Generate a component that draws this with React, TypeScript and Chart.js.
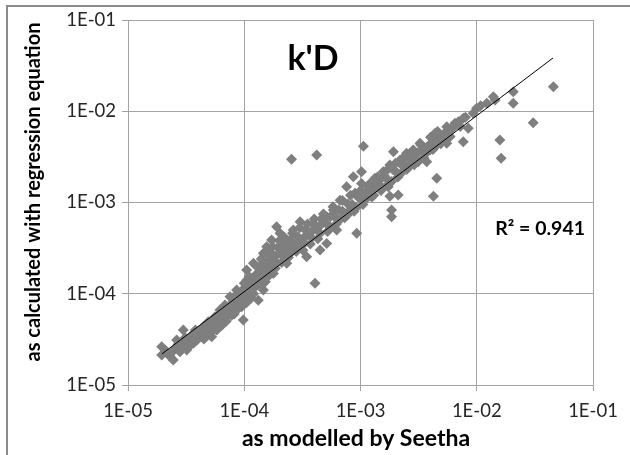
import React, { useEffect, useRef } from "react";
import { Chart, registerables } from "chart.js";

Chart.register(...registerables);

// ---- data (x = as modelled by Seetha, y = as calculated with regression equation)
const lowBand: number[][] = [
  [1.95e-5, 2.63e-5], [1.95e-5, 2.13e-5], [2.45e-5, 1.88e-5], [2.99e-5, 4.0e-5],
  [2.62e-5, 3.11e-5], [2.8e-5, 2.32e-5], [3.2e-5, 2.42e-5], [3.65e-5, 2.86e-5],
  [4.16e-5, 3.53e-5], [4.44e-5, 4.35e-5], [5.25e-5, 3.38e-5], [4.9e-5, 4.94e-5],
  [5.6e-5, 5.6e-5], [6.18e-5, 6.64e-5], [6.83e-5, 7.53e-5], [5.8e-5, 4.55e-5],
  [7.06e-5, 5.6e-5], [7.54e-5, 9.3e-5], [8.05e-5, 6.92e-5], [8.6e-5, 1.1e-4],
  [9.2e-5, 8.5e-5], [9.8e-5, 5.15e-5], [3.5e-5, 3.3e-5], [3.8e-5, 4.0e-5],
  [4.0e-5, 3.8e-5], [4.2e-5, 3.4e-5], [4.6e-5, 4.1e-5], [4.8e-5, 4.6e-5],
  [5.3e-5, 5.0e-5], [5.5e-5, 4.6e-5], [6.0e-5, 5.5e-5], [6.2e-5, 6.0e-5],
  [6.6e-5, 6.3e-5], [6.8e-5, 5.8e-5], [7.3e-5, 7.0e-5], [7.5e-5, 6.5e-5],
  [8.0e-5, 8.2e-5], [8.3e-5, 7.5e-5], [9.0e-5, 9.5e-5], [9.2e-5, 8.0e-5],
  [8.7e-5, 1.0e-4], [2.2e-5, 2.2e-5], [2.6e-5, 2.6e-5], [3.0e-5, 2.9e-5],
  [3.3e-5, 3.0e-5], [2.4e-5, 2.3e-5], [5.8e-5, 4.0e-5], [6.4e-5, 4.5e-5],
  [7.0e-5, 5.0e-5], [5.2e-5, 3.8e-5], [4.5e-5, 3.2e-5], [7.8e-5, 5.8e-5],
  [8.5e-5, 6.5e-5], [9.5e-5, 7.2e-5], [1.05e-4, 8.0e-5], [1.15e-4, 9.0e-5],
  [2.1e-5, 2.4e-5], [2.3e-5, 2.05e-5], [2.7e-5, 2.8e-5], [2.9e-5, 2.5e-5],
  [3.1e-5, 3.3e-5], [3.4e-5, 2.7e-5], [3.6e-5, 3.6e-5], [3.9e-5, 3.1e-5],
  [4.3e-5, 4.0e-5], [4.7e-5, 3.6e-5], [5.0e-5, 4.2e-5], [5.6e-5, 4.3e-5],
  [6.1e-5, 5.0e-5], [6.5e-5, 5.3e-5], [7.1e-5, 6.2e-5], [7.7e-5, 7.2e-5],
  [8.2e-5, 6.0e-5], [8.8e-5, 7.8e-5], [9.6e-5, 8.8e-5], [9.9e-5, 1.0e-4],
];

const midBand: number[][] = [
  [1.05e-4, 1.82e-4], [1.12e-4, 9.3e-5], [1.24e-4, 1.19e-4], [1.32e-4, 8.5e-5],
  [1.36e-4, 1.67e-4], [1.51e-4, 2.16e-4], [1.46e-4, 1.1e-4], [1.05e-4, 1.41e-4],
  [1.24e-4, 1.3e-4], [1.46e-4, 2.77e-4], [1.56e-4, 3.28e-4], [1.72e-4, 3.88e-4],
  [1.9e-4, 5.43e-4], [2.03e-4, 4.59e-4], [2.48e-4, 3.88e-4], [2.39e-4, 3.01e-4],
  [2.64e-4, 5.0e-4], [3.02e-4, 6.17e-4], [3.44e-4, 4.4e-4], [3.93e-4, 5.92e-4],
  [4.49e-4, 4.59e-4], [4.49e-4, 3.01e-4], [4.06e-4, 1.3e-4], [5.12e-4, 7.0e-4],
  [5.84e-4, 8.28e-4], [6.67e-4, 1.06e-3], [7.6e-4, 1.49e-3], [8.97e-4, 1.26e-3],
  [9.27e-4, 4.59e-4], [1.36e-4, 1.98e-4], [1.66e-4, 2.34e-4], [2.17e-4, 3.28e-4],
  [3.02e-4, 3.28e-4], [3.44e-4, 2.55e-4], [5.12e-4, 3.56e-4], [6.24e-4, 5.0e-4],
  [7.11e-4, 7.0e-4], [8.13e-4, 8.28e-4], [1.78e-4, 1.67e-4], [2.32e-4, 2.16e-4],
  [1.2e-4, 2.16e-4], [1.12e-4, 1.1e-4], [8.67e-4, 1.92e-3],
  [1.0e-4, 1.15e-4], [1.02e-4, 9.2e-5], [1.0e-4, 1.3e-4], [1.1e-4, 1.35e-4],
  [1.15e-4, 1.05e-4], [1.1e-4, 1.55e-4], [1.25e-4, 1.6e-4], [1.3e-4, 1.25e-4],
  [1.28e-4, 2.0e-4], [1.4e-4, 1.8e-4], [1.45e-4, 1.45e-4], [1.4e-4, 2.4e-4],
  [1.6e-4, 2.1e-4], [1.65e-4, 1.6e-4], [1.55e-4, 2.8e-4], [1.8e-4, 2.5e-4],
  [1.85e-4, 1.9e-4], [1.75e-4, 3.3e-4], [2.0e-4, 2.8e-4], [2.1e-4, 2.2e-4],
  [2.0e-4, 3.8e-4], [2.3e-4, 3.0e-4], [2.4e-4, 2.5e-4], [2.2e-4, 4.2e-4],
  [2.7e-4, 3.5e-4], [2.8e-4, 2.9e-4], [2.6e-4, 4.6e-4], [3.1e-4, 3.9e-4],
  [3.2e-4, 3.0e-4], [3.0e-4, 5.3e-4], [3.6e-4, 4.5e-4], [3.7e-4, 3.5e-4],
  [3.5e-4, 5.8e-4], [4.2e-4, 5.2e-4], [4.3e-4, 4.0e-4], [4.0e-4, 6.6e-4],
  [5.0e-4, 6.0e-4], [5.2e-4, 4.8e-4], [4.8e-4, 7.5e-4], [6.0e-4, 7.0e-4],
  [6.2e-4, 5.8e-4], [5.8e-4, 9.0e-4], [7.0e-4, 8.0e-4], [7.3e-4, 6.8e-4],
  [7.0e-4, 1.05e-3], [8.5e-4, 9.5e-4], [8.8e-4, 8.0e-4], [8.2e-4, 1.2e-3],
  [1.08e-4, 1.2e-4], [1.18e-4, 1.4e-4], [1.2e-4, 1.0e-4], [1.33e-4, 1.45e-4],
  [1.38e-4, 1.3e-4], [1.5e-4, 1.7e-4], [1.52e-4, 1.35e-4], [1.62e-4, 1.85e-4],
  [1.7e-4, 2.8e-4], [1.72e-4, 2.05e-4], [1.9e-4, 2.2e-4], [1.95e-4, 3.2e-4],
  [2.15e-4, 2.6e-4], [2.25e-4, 3.6e-4], [2.5e-4, 2.8e-4], [2.55e-4, 3.3e-4],
  [2.85e-4, 3.3e-4], [2.9e-4, 4.2e-4], [3.3e-4, 3.6e-4], [3.35e-4, 5.0e-4],
  [3.8e-4, 4.1e-4], [3.9e-4, 5.0e-4], [4.5e-4, 5.6e-4], [4.6e-4, 6.6e-4],
  [5.5e-4, 5.4e-4], [5.5e-4, 7.0e-4], [6.5e-4, 6.3e-4], [6.5e-4, 8.3e-4],
  [7.7e-4, 7.3e-4], [7.8e-4, 9.6e-4], [9.2e-4, 8.8e-4], [9.5e-4, 1.15e-3],
];

const highBand: number[][] = [
  [1.06e-3, 4.14e-3], [1.02e-3, 2.17e-3], [1.02e-3, 1.62e-3], [1.33e-3, 1.84e-3],
  [1.57e-3, 2.17e-3], [1.79e-3, 2.58e-3], [1.92e-3, 3.6e-3], [2.19e-3, 2.92e-3],
  [2.49e-3, 3.46e-3], [2.85e-3, 3.76e-3], [3.25e-3, 4.45e-3], [3.71e-3, 2.8e-3],
  [3.14e-3, 2.8e-3], [4.38e-3, 5.73e-3], [4.83e-3, 4.84e-3], [5.52e-3, 6.78e-3],
  [6.5e-3, 7.38e-3], [4.53e-3, 1.84e-3], [4.24e-3, 1.17e-3], [1.79e-3, 1.17e-3],
  [1.73e-3, 1.49e-3], [2.11e-3, 1.21e-3], [1.47e-3, 1.77e-3], [1.85e-3, 8.28e-4],
  [1.85e-3, 7.0e-4], [1.29e-3, 1.37e-3], [1.13e-3, 1.11e-3], [3.96e-3, 3.76e-3],
  [5.89e-3, 5.26e-3], [7.65e-3, 8.37e-3], [6.95e-3, 7.68e-3], [6.29e-3, 6.78e-3],
  [8.45e-3, 6.5e-3], [7.65e-3, 4.64e-3], [5.33e-3, 5.73e-3], [5.52e-3, 4.45e-3],
  [9.33e-3, 9.49e-3], [9.98e-3, 1.08e-2],
  [1.0e-3, 1.1e-3], [1.05e-3, 9.5e-4], [1.0e-3, 1.35e-3], [1.2e-3, 1.3e-3],
  [1.25e-3, 1.15e-3], [1.2e-3, 1.6e-3], [1.45e-3, 1.55e-3], [1.5e-3, 1.35e-3],
  [1.4e-3, 1.9e-3], [1.7e-3, 1.8e-3], [1.75e-3, 1.6e-3], [1.65e-3, 2.2e-3],
  [2.0e-3, 2.2e-3], [2.1e-3, 1.9e-3], [2.0e-3, 2.7e-3], [2.4e-3, 2.6e-3],
  [2.5e-3, 2.3e-3], [2.4e-3, 3.2e-3], [2.8e-3, 3.1e-3], [2.9e-3, 2.6e-3],
  [2.8e-3, 3.7e-3], [3.4e-3, 3.7e-3], [3.5e-3, 3.1e-3], [3.3e-3, 4.3e-3],
  [4.0e-3, 4.4e-3], [4.2e-3, 3.8e-3], [4.0e-3, 5.2e-3], [4.7e-3, 5.1e-3],
  [4.9e-3, 4.4e-3], [4.6e-3, 6.0e-3], [5.6e-3, 6.0e-3], [5.8e-3, 5.4e-3],
  [6.8e-3, 7.2e-3], [8.0e-3, 8.6e-3],
  [1.1e-3, 1.25e-3], [1.15e-3, 1.5e-3], [1.3e-3, 1.2e-3], [1.35e-3, 1.65e-3],
  [1.55e-3, 1.45e-3], [1.6e-3, 1.95e-3], [1.85e-3, 1.7e-3], [1.9e-3, 2.3e-3],
  [2.2e-3, 2.05e-3], [2.25e-3, 2.6e-3], [2.6e-3, 2.45e-3], [2.65e-3, 3.0e-3],
  [3.0e-3, 2.9e-3], [3.1e-3, 3.5e-3], [3.6e-3, 3.4e-3], [3.7e-3, 4.0e-3],
  [4.4e-3, 4.1e-3], [4.4e-3, 4.8e-3], [5.1e-3, 4.9e-3], [5.2e-3, 5.6e-3],
  [6.1e-3, 6.4e-3], [7.2e-3, 6.8e-3],
];

const topEnd: number[][] = [
  [4.56e-2, 1.86e-2], [2.06e-2, 1.64e-2], [2.06e-2, 1.22e-2], [3.06e-2, 7.5e-3],
  [1.58e-2, 4.84e-3], [1.62e-2, 3.05e-3], [1.44e-2, 1.33e-2], [1.22e-2, 1.22e-2],
  [1.39e-2, 1.44e-2], [1.08e-2, 1.15e-2],
];

const outliers: number[][] = [
  [2.55e-4, 2.97e-3], [4.2e-4, 3.32e-3],
];

const trendX = [1.96e-5, 4.53e-2];
const trendY = [2.19e-5, 3.84e-2];

const axisTicks = [1e-5, 1e-4, 1e-3, 1e-2, 1e-1];
const chartTitle = "k'D";
const r2Label = "R² = 0.941";
const xTitle = "as modelled by Seetha";
const yTitle = "as calculated with regression equation";

const FONT = "Lato, 'Open Sans', sans-serif";
const GRID = "#a3a3a3";
const MARK = "#7f7f7f";

function fmt(v: number): string {
  const e = Math.round(Math.log10(v));
  const s = Math.abs(e).toString().padStart(2, "0");
  return "1E" + (e < 0 ? "-" : "+") + s;
}

const textPlugin = {
  id: "texts",
  afterDraw(chart: any) {
    const ctx = chart.ctx as CanvasRenderingContext2D;
    ctx.save();
    ctx.fillStyle = "#000";
    ctx.textBaseline = "alphabetic";
    ctx.font = `bold 34px ${FONT}`;
    ctx.textAlign = "center";
    ctx.fillText(chartTitle, 313, 70);
    ctx.font = `bold 19.5px ${FONT}`;
    ctx.textAlign = "right";
    ctx.fillText(r2Label, 585, 235);
    ctx.font = `bold 23px ${FONT}`;
    ctx.textAlign = "center";
    ctx.fillText(xTitle, 356, 446);
    ctx.font = `bold 20px ${FONT}`;
    ctx.translate(40, 192);
    ctx.rotate(-Math.PI / 2);
    ctx.fillText(yTitle, 0, 0);
    ctx.restore();
  },
};

export default function App() {
  const ref = useRef<HTMLCanvasElement | null>(null);

  useEffect(() => {
    if (!ref.current) return;
    const toPts = (arr: number[][]) => arr.map((p) => ({ x: p[0], y: p[1] }));
    const pts = [...toPts(lowBand), ...toPts(midBand), ...toPts(highBand), ...toPts(topEnd), ...toPts(outliers)];
    const trend = trendX.map((x, i) => ({ x, y: trendY[i] }));

    const scaleCommon = (isY: boolean) => ({
      type: "logarithmic" as const,
      min: axisTicks[0],
      max: axisTicks[axisTicks.length - 1],
      afterBuildTicks: (s: any) => {
        s.ticks = axisTicks.map((v) => ({ value: v }));
      },
      afterFit: (s: any) => {
        if (isY) s.width = 128;
        else s.height = 70;
      },
      grid: { color: GRID, lineWidth: 1, tickLength: 6, drawTicks: true },
      border: { color: GRID, width: 1 },
      ticks: {
        callback: (v: any) => fmt(Number(v)),
        font: { family: FONT, size: 18.5 },
        color: "#262626",
        padding: isY ? 6 : 9,
        maxRotation: 0,
        autoSkip: false,
      },
      title: { display: false },
    });

    const chart = new Chart(ref.current, {
      type: "scatter",
      data: {
        datasets: [
          {
            data: trend,
            showLine: true,
            borderColor: "#000",
            borderWidth: 1,
            pointRadius: 0,
            order: 0,
          } as any,
          {
            data: pts,
            pointStyle: "rectRot",
            pointRadius: 5.5,
            pointBackgroundColor: MARK,
            pointBorderWidth: 0,
            pointBorderColor: MARK,
            order: 1,
          } as any,
        ],
      },
      options: {
        animation: false,
        responsive: false,
        maintainAspectRatio: false,
        layout: { padding: { left: 0, right: 37, top: 20, bottom: 0 } },
        plugins: { legend: { display: false }, tooltip: { enabled: false } },
        scales: {
          x: scaleCommon(false) as any,
          y: scaleCommon(true) as any,
        },
      },
      plugins: [textPlugin],
    });
    return () => chart.destroy();
  }, []);

  return (
    <div style={{ position: "fixed", left: 0, top: 0, width: 630, height: 455, background: "#fff" }}>
      <div
        style={{
          position: "absolute",
          left: 6,
          top: 5,
          right: 0,
          bottom: 0,
          borderTop: "2px solid #8a8a8a",
          borderLeft: "2px solid #8a8a8a",
        }}
      />
      <canvas ref={ref} width={630} height={455} style={{ position: "absolute", left: 0, top: 0 }} />
    </div>
  );
}
